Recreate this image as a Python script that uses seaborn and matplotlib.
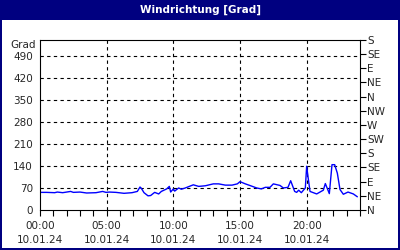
import matplotlib
matplotlib.use("Agg")
import matplotlib.pyplot as plt
from matplotlib.patches import Rectangle
import seaborn as sns
import pandas as pd

# ---- data ----
hours = [0.0, 0.5, 1.1, 1.3, 1.7, 2.3, 2.5, 3.0, 3.5, 4.2, 4.7, 4.95, 5.2, 5.7, 6.3, 6.9,
         7.3, 7.5, 7.6, 7.8, 8.1, 8.3, 8.6, 8.9, 9.1, 9.5, 9.7, 9.8, 10.0, 10.1, 10.4,
         10.6, 10.9, 11.5, 11.9, 12.4, 13.0, 13.4, 13.9, 14.4, 14.8, 15.0, 15.4, 15.8,
         16.25, 16.6, 16.9, 17.25, 17.5, 18.0, 18.25, 18.6, 18.8, 19.1, 19.25, 19.4,
         19.6, 19.9, 20.0, 20.1, 20.25, 20.75, 21.25, 21.4, 21.7, 21.9, 22.1, 22.3,
         22.5, 22.75, 23.1, 23.5, 23.8]
grad = [56, 56, 55, 57, 55, 59, 56, 57, 54, 55, 59, 56, 57, 56, 53, 55,
        59, 73, 69, 55, 45, 46, 56, 51, 59, 67, 75, 57, 67, 60, 70,
        66, 70, 80, 75, 77, 83, 83, 79, 79, 83, 90, 83, 77,
        70, 67, 72, 72, 83, 78, 70, 72, 93, 59, 56, 63,
        55, 70, 139, 106, 59, 51, 63, 84, 52, 144, 144, 117,
        65, 50, 57, 51, 42]

left_ticks = [0, 70, 140, 210, 280, 350, 420, 490]
right_ticks = [0, 45, 90, 135, 180, 225, 270, 315, 360, 405, 450, 495, 540]
right_labels = ["N", "NE", "E", "SE", "S", "SW", "W", "NW", "N", "NE", "E", "SE", "S"]
x_major = [0, 5, 10, 15, 20]
x_labels = ["00:00\n10.01.24", "05:00\n10.01.24", "10:00\n10.01.24",
            "15:00\n10.01.24", "20:00\n10.01.24"]
title = "Windrichtung [Grad]"
unit = "Grad"

df = pd.DataFrame({"h": hours, "grad": grad})

sns.set_style("white")
plt.rcParams["font.family"] = ["DejaVu Sans"]
fs = 7.5
navy = "#000080"

fig = plt.figure(figsize=(4, 2.5), dpi=100)
fig.patch.set_facecolor(navy)
fig.add_artist(Rectangle((2 / 400, 2 / 250), 396 / 400, 228 / 250,
                         transform=fig.transFigure, facecolor="white",
                         edgecolor="none", zorder=0))
fig.text(0.5, 1 - 10 / 250, title, color="white", fontweight="bold",
         ha="center", va="center", fontsize=fs)

ax = fig.add_axes([40 / 400, 40 / 250, 320 / 400, 170 / 250])
ax.set_facecolor("white")
sns.lineplot(data=df, x="h", y="grad", ax=ax, color="#0000ff", linewidth=1)
ax.set_xlim(0, 24)
ax.set_ylim(0, 540)
ax.set_xlabel("")
ax.set_ylabel("")
ax.set_yticks(left_ticks)
ax.set_yticklabels([str(t) for t in left_ticks], fontsize=fs)
ax.tick_params(axis="y", length=0, pad=5)
ax.set_xticks(x_major)
ax.set_xticklabels(x_labels, fontsize=fs, linespacing=1.45)
ax.set_xticks(range(0, 25), minor=True)
ax.tick_params(axis="x", which="both", direction="out", length=4, width=0.8,
               color="black", pad=4, bottom=True)
for g in left_ticks[1:]:
    ax.axhline(g, color="black", linestyle=(0, (3, 3)), linewidth=0.8, zorder=1)
for g in x_major[1:]:
    ax.axvline(g, color="black", linestyle=(0, (3, 3)), linewidth=0.8, zorder=1)
for s in ax.spines.values():
    s.set_color("black")
    s.set_linewidth(0.8)
ax.text(-0.012, 1 - 5 / 170, unit, transform=ax.transAxes, ha="right",
        va="center", fontsize=fs)

ax2 = ax.twinx()
ax2.set_ylim(0, 540)
ax2.set_yticks(right_ticks)
ax2.set_yticklabels(right_labels, fontsize=fs)
ax2.tick_params(axis="y", direction="out", length=4, width=0.8, pad=1,
                color="black")
for s in ax2.spines.values():
    s.set_visible(False)

fig.savefig("out.png", dpi=100, facecolor=navy)
